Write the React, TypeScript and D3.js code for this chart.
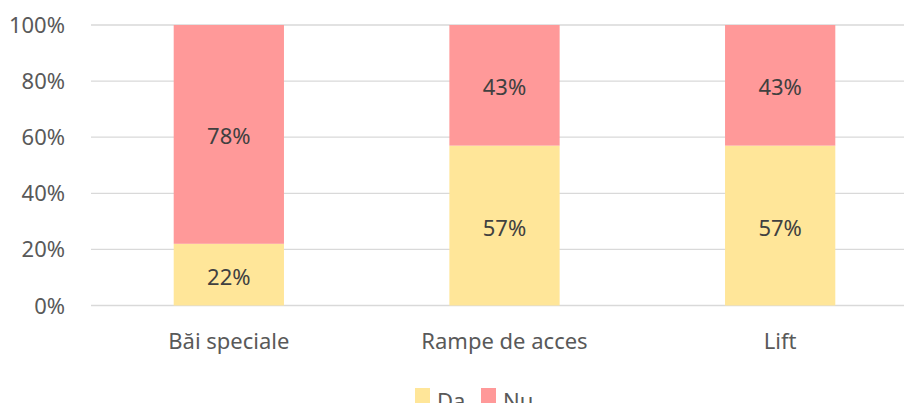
import React from "react";
import { scaleBand, scaleLinear, stack } from "d3";

const categories = ["Băi speciale", "Rampe de acces", "Lift"];
const daValues = [0.22, 0.57, 0.57];
const nuValues = [0.78, 0.43, 0.43];
const seriesNames = ["Da", "Nu"];
const seriesColors = ["#FFE699", "#FF9999"];
const yTickValues = [0, 0.2, 0.4, 0.6, 0.8, 1];

const WIDTH = 904;
const HEIGHT = 403;
const PLOT = { left: 91, right: 918, top: 25, bottom: 305.5 };
const FONT = "'Segoe UI', 'Noto Sans', 'Open Sans', sans-serif";
const FS = 22;

export default function App() {
  const rows = categories.map((c, i) => ({ cat: c, Da: daValues[i], Nu: nuValues[i] }));
  const layers = stack<any>().keys(seriesNames)(rows);

  const x = scaleBand<string>()
    .domain(categories)
    .range([PLOT.left, PLOT.right])
    .paddingInner(0.6)
    .paddingOuter(0.3);
  const y = scaleLinear().domain([0, 1]).range([PLOT.bottom, PLOT.top]);

  return (
    <div style={{ position: "fixed", left: 0, top: 0 }}>
      <svg width={WIDTH} height={HEIGHT} style={{ display: "block", background: "#fff" }}>
        {/* gridlines + y labels */}
        {yTickValues.map((t) => (
          <g key={t}>
            <line x1={PLOT.left} x2={WIDTH} y1={y(t)} y2={y(t)} stroke="#D9D9D9" strokeWidth={1.3} />
            <text
              x={65}
              y={y(t) + 8}
              textAnchor="end"
              fontFamily={FONT}
              fontSize={FS}
              fill="#595959"
            >
              {`${Math.round(t * 100)}%`}
            </text>
          </g>
        ))}

        {/* bars */}
        {layers.map((layer, li) => (
          <g key={layer.key}>
            {layer.map((d, i) => {
              const bx = x(categories[i]) as number;
              const y0 = y(d[0]);
              const y1 = y(d[1]);
              return (
                <g key={categories[i]}>
                  <rect x={bx} y={y1} width={x.bandwidth()} height={y0 - y1} fill={seriesColors[li]} />
                  <text
                    x={bx + x.bandwidth() / 2}
                    y={(y0 + y1) / 2 + 10}
                    textAnchor="middle"
                    fontFamily={FONT}
                    fontSize={FS}
                    fill="#404040"
                  >
                    {`${Math.round((d[1] - d[0]) * 100)}%`}
                  </text>
                </g>
              );
            })}
          </g>
        ))}

        {/* category labels */}
        {categories.map((c) => (
          <text
            key={c}
            x={(x(c) as number) + x.bandwidth() / 2}
            y={349}
            textAnchor="middle"
            fontFamily={FONT}
            fontSize={FS}
            fill="#595959"
          >
            {c}
          </text>
        ))}

        {/* legend */}
        {seriesNames.map((s, i) => {
          const lx = 415 + i * 66;
          return (
            <g key={s}>
              <rect x={lx} y={388} width={15} height={15} fill={seriesColors[i]} />
              <text x={lx + 22} y={409} fontFamily={FONT} fontSize={FS} fill="#595959">
                {s}
              </text>
            </g>
          );
        })}
      </svg>
    </div>
  );
}
